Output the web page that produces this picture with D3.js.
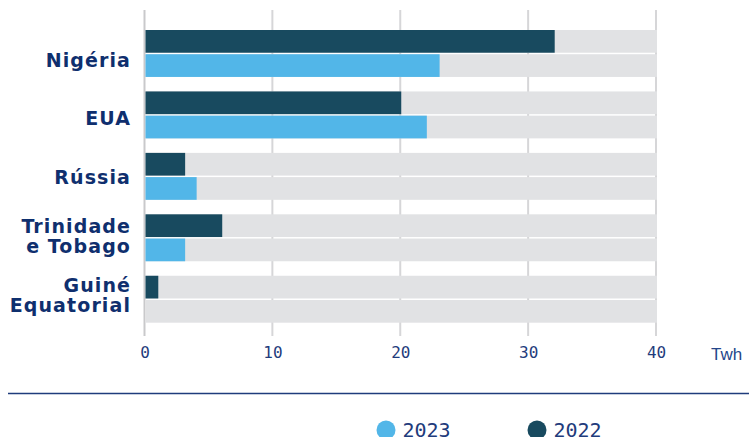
<!DOCTYPE html>
<html>
<head>
<meta charset="utf-8">
<script src="https://cdn.jsdelivr.net/npm/d3@7"></script>
<style>
  body { margin: 0; background: #fff; }
  svg { display: block; }
</style>
</head>
<body>
<div class="canvas"></div>
<script>
var countries = ['Nigéria', 'EUA', 'Rússia', 'Trinidade e Tobago', 'Guiné Equatorial'];
var countryLines = [['Nigéria'], ['EUA'], ['Rússia'], ['Trinidade', 'e Tobago'], ['Guiné', 'Equatorial']];
var years = ['2022', '2023'];
var values2022 = [32, 20, 3.1, 6, 1];
var values2023 = [23, 22, 4, 3.1, 0];
var xTicks = [0, 10, 20, 30, 40];
var xMax = 40;
var unitLabel = 'Twh';
var legendYears = ['2023', '2022'];

var width = 749;
var height = 437;
var colours = { '2022': '#184a5f', '2023': '#52b6e8' };
var navy = '#0f2f6e';

var svg = d3.select('.canvas')
  .append('svg')
  .attr('width', width)
  .attr('height', height);

var xscale = d3.scaleLinear()
  .domain([0, xMax])
  .range([144.5, 656]);

var yscale = d3.scaleBand()
  .domain(countries)
  .range([30, 322.7])
  .paddingInner(0.236)
  .paddingOuter(0);

var yinner = d3.scaleBand()
  .domain(years)
  .range([0, yscale.bandwidth()])
  .paddingInner(0.062);

// labels sit on their own even spacing
var labelScale = d3.scalePoint()
  .domain(countries)
  .range([59.5, 294.5]);

// gridlines
svg.append('g')
  .selectAll('line')
  .data(xTicks)
  .enter()
  .append('line')
  .attr('x1', function(d) { return xscale(d); })
  .attr('x2', function(d) { return xscale(d); })
  .attr('y1', 10)
  .attr('y2', 336)
  .attr('stroke', function(d) { return d === 0 ? '#c9c9cb' : '#d6d6d8'; })
  .attr('stroke-width', 2);

var rows = [];
countries.forEach(function(c, i) {
  rows.push({ country: c, year: '2022', value: values2022[i] });
  rows.push({ country: c, year: '2023', value: values2023[i] });
});

// background tracks
svg.append('g')
  .selectAll('rect')
  .data(rows)
  .enter()
  .append('rect')
  .attr('x', xscale(0) + 1)
  .attr('y', function(d) { return yscale(d.country) + yinner(d.year); })
  .attr('width', xscale(xMax) - xscale(0))
  .attr('height', yinner.bandwidth())
  .attr('fill', '#e1e2e4');

// value bars
svg.append('g')
  .selectAll('rect')
  .data(rows)
  .enter()
  .append('rect')
  .attr('x', xscale(0) + 1)
  .attr('y', function(d) { return yscale(d.country) + yinner(d.year); })
  .attr('width', function(d) { return Math.max(0, xscale(d.value) - xscale(0)); })
  .attr('height', yinner.bandwidth())
  .attr('fill', function(d) { return colours[d.year]; });

// category labels
var labels = svg.append('g')
  .selectAll('text')
  .data(countries)
  .enter()
  .append('text')
  .attr('text-anchor', 'end')
  .attr('fill', navy)
  .style('font-family', 'DejaVu Sans')
  .style('font-weight', 'bold')
  .style('font-size', '19px')
  .style('letter-spacing', '1.1px');

labels.each(function(d, i) {
  var lines = countryLines[i];
  var lineH = 20;
  var y0 = labelScale(d) - (lines.length - 1) * lineH / 2 + 7;
  d3.select(this).selectAll('tspan')
    .data(lines)
    .enter()
    .append('tspan')
    .attr('x', 131)
    .attr('y', function(l, j) { return y0 + j * lineH; })
    .text(function(l) { return l; });
});

// x axis labels
var xaxis = d3.axisBottom(xscale)
  .tickValues(xTicks)
  .tickSize(0)
  .tickPadding(0);

var axisG = svg.append('g')
  .attr('transform', 'translate(0,345)')
  .call(xaxis);
axisG.select('.domain').remove();
axisG.selectAll('text')
  .attr('dy', 0)
  .attr('y', 13)
  .attr('fill', '#1f3c7c')
  .style('font-family', 'DejaVu Sans Mono')
  .style('font-size', '16px');

svg.append('text')
  .attr('x', 711)
  .attr('y', 359.5)
  .attr('fill', '#24468a')
  .style('font-family', 'Liberation Sans')
  .style('font-size', '17px')
  .text(unitLabel);

// separator
svg.append('line')
  .attr('x1', 8)
  .attr('x2', width)
  .attr('y1', 393.5)
  .attr('y2', 393.5)
  .attr('stroke', '#1f3c7c')
  .attr('stroke-width', 1.3);

// legend
var legendX = d3.scalePoint()
  .domain(legendYears)
  .range([386, 537]);

var legend = svg.append('g')
  .selectAll('g')
  .data(legendYears)
  .enter()
  .append('g')
  .attr('transform', function(d) { return 'translate(' + legendX(d) + ',430)'; });

legend.append('circle')
  .attr('r', 9.5)
  .attr('fill', function(d) { return colours[d]; });

legend.append('text')
  .attr('x', 16.5)
  .attr('y', 6.5)
  .attr('fill', '#1f3c7c')
  .style('font-family', 'DejaVu Sans Mono')
  .style('font-size', '20px')
  .text(function(d) { return d; });
</script>
</body>
</html>
